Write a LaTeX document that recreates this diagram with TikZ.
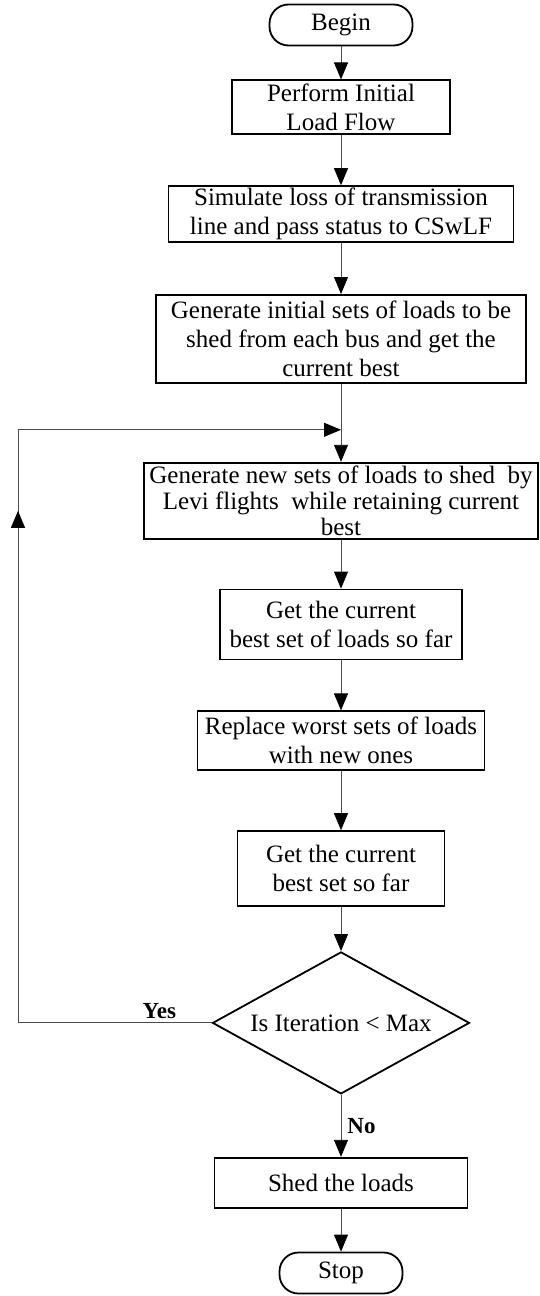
\documentclass[tikz,border=0pt]{standalone}
\usepackage{fontspec}
\setmainfont{Liberation Serif}
\usetikzlibrary{arrows.meta,positioning,shapes.geometric}

\begin{document}
\begin{tikzpicture}[
  x=1pt,y=1pt,
  font=\fontsize{25}{29}\selectfont,
  process/.style={rectangle,draw,line width=1.8pt,align=center,inner sep=0pt},
  terminal/.style={rectangle,draw,line width=1.8pt,rounded corners=19pt,align=center,inner sep=0pt,minimum height=41pt},
  decision/.style={diamond,draw,line width=1.8pt,shape aspect=1.8,inner sep=0pt,minimum width=257pt,minimum height=142pt},
  arrow/.style={-{Triangle[length=17pt,width=14pt,black]},line width=0.9pt,black!70},
  link/.style={line width=0.9pt,black!70},
  answer/.style={text=black,font=\fontsize{23}{28}\selectfont\bfseries}
]
  \useasboundingbox (0,0) rectangle (539,-1296);

  \node[terminal,minimum width=143pt] (begin) at (341,-25) {Begin};
  \node[process,below=33pt of begin,minimum width=218pt,minimum height=54pt] (initflow) {Perform Initial\\Load Flow};
  \node[process,below=50pt of initflow,minimum width=345pt,minimum height=56pt] (lineloss) {Simulate loss of transmission\\line and pass status to CSwLF};
  \node[process,below=51pt of lineloss,minimum width=370pt,minimum height=88pt] (geninit) {Generate initial sets of loads to be\\shed from each bus and get the\\current best};
  \node[process,below=78pt of geninit,minimum width=394pt,minimum height=76pt,font=\fontsize{25}{26}\selectfont] (gennew) {Generate new sets of loads to shed\ \ by\\Levi flights\ \ while retaining current\\best};
  \node[process,below=49pt of gennew,minimum width=242pt,minimum height=70pt] (bestloads) {Get the current\\best set of loads so far};
  \node[process,below=50pt of bestloads,minimum width=287pt,minimum height=59pt] (replace) {Replace worst sets of loads\\with new ones};
  \node[process,below=59pt of replace,minimum width=207pt,minimum height=75pt] (bestset) {Get the current\\best set so far};
  \node[decision,below=44pt of bestset] (check) {Is Iteration < Max};
  \node[process,below=62pt of check,minimum width=253pt,minimum height=50pt] (shed) {Shed the loads};
  \node[terminal,below=43pt of shed,minimum width=123pt] (stop) {Stop};

  % loop back
  \coordinate[below=46pt of geninit.south] (merge);
  \coordinate[left=323pt of merge] (looptop);
  \coordinate (loopbottom) at (looptop |- check.west);
  \coordinate[below=81pt of looptop] (looparrow);

  \draw[arrow] (begin) -- (initflow);
  \draw[arrow] (initflow) -- (lineloss);
  \draw[arrow] (lineloss) -- (geninit);
  \draw[arrow] (geninit) -- (gennew);
  \draw[arrow] (gennew) -- (bestloads);
  \draw[arrow] (bestloads) -- (replace);
  \draw[arrow] (replace) -- (bestset);
  \draw[arrow] (bestset) -- (check);
  \draw[arrow] (check) -- node[answer,right,inner sep=6pt] {No} (shed);
  \draw[arrow] (shed) -- (stop);

  \draw[link] (check.west) -- node[answer,above,pos=0.27] {Yes} (loopbottom) -- (looptop);
  \draw[arrow] (looptop) -- (merge);
  \draw[arrow] (loopbottom) -- (looparrow);
\end{tikzpicture}
\end{document}
